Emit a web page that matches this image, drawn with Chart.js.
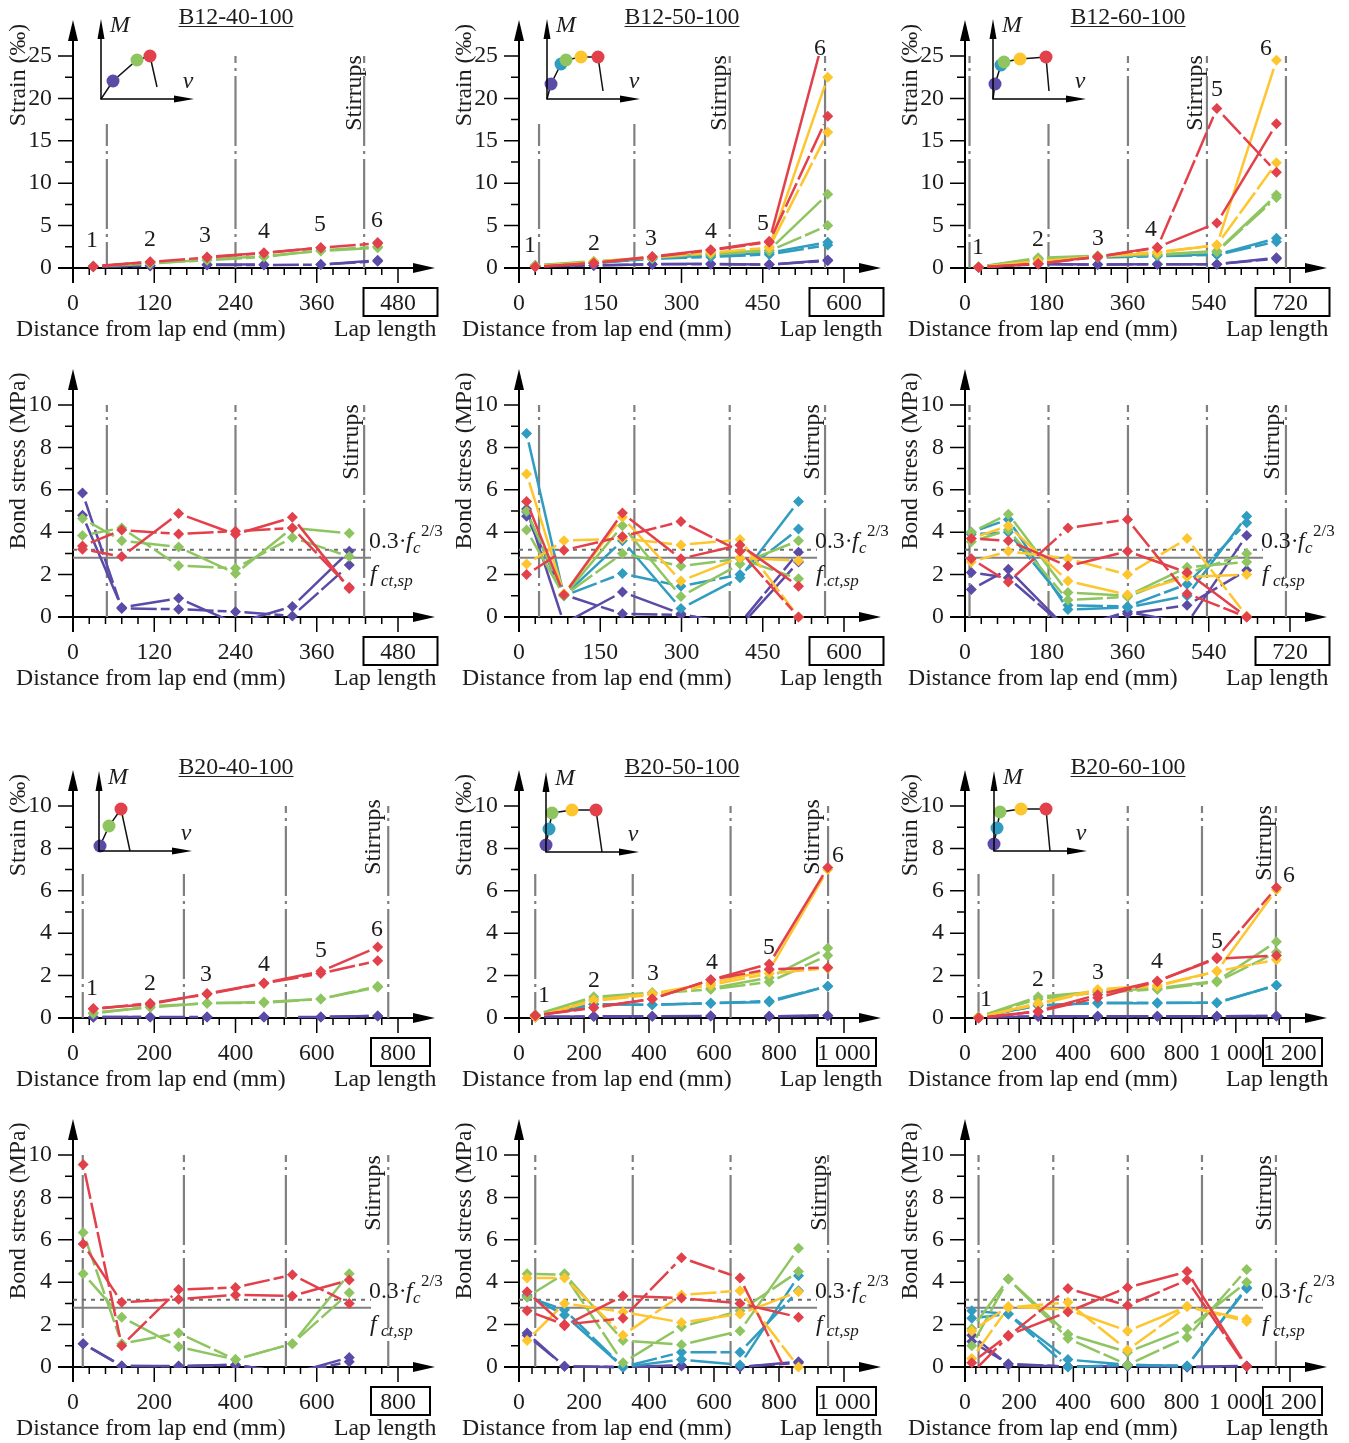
<!DOCTYPE html>
<html>
<head>
<meta charset="utf-8">
<title>Strain and bond stress along lap splices</title>
<script src="https://cdn.jsdelivr.net/npm/chart.js@4/dist/chart.umd.min.js"></script>
<style>
  html, body { margin: 0; padding: 0; background: #fff; }
  #page { position: relative; width: 1349px; height: 1443px; overflow: hidden; background: #fff; }
  canvas { position: absolute; }
</style>
</head>
<body>
<div id="page"></div>
<script>
// B12-40-100 strain
const b1240sX = [30, 114, 198, 282, 366, 450];
const b1240sRed = [0.2, 0.75, 1.3, 1.8, 2.4, 3.0];
const b1240sRedD = [0.15, 0.7, 1.25, 1.75, 2.4, 2.9];
const b1240sGreen = [0.2, 0.5, 1.0, 1.4, 2.0, 2.4];
const b1240sGreenD = [0.2, 0.6, 0.9, 1.3, 2.1, 2.5];
const b1240sPurple = [0.2, 0.3, 0.4, 0.4, 0.4, 0.9];
const b1240sPurpleD = [0.15, 0.25, 0.35, 0.35, 0.4, 0.8];
// B12-40-100 bond
const b1240bX = [14, 72, 156, 240, 324, 408];
const b1240bRed = [3.2, 2.85, 4.88, 3.9, 4.7, 1.35];
const b1240bRedD = [3.35, 4.1, 3.92, 4.05, 4.2, 1.4];
const b1240bGreen = [4.65, 3.6, 3.3, 2.05, 4.2, 3.95];
const b1240bGreenD = [3.85, 4.2, 2.42, 2.3, 3.75, 2.85];
const b1240bPurple = [4.8, 0.45, 0.88, -0.3, 0.5, 3.1];
const b1240bPurpleD = [5.85, 0.4, 0.37, 0.25, 0.05, 2.45];
// B12-50-100 strain
const b1250sX = [30, 138, 246, 354, 462, 570];
const b1250sRed = [0.15, 0.6, 1.35, 2.15, 3.15, 29];
const b1250sRedD = [0.15, 0.55, 1.3, 2.1, 3.05, 17.9];
const b1250sYellow = [0.2, 0.7, 1.3, 1.9, 2.5, 22.5];
const b1250sYellowD = [0.2, 0.65, 1.25, 1.8, 2.4, 16];
const b1250sGreen = [0.3, 0.8, 1.2, 1.7, 2.1, 8.7];
const b1250sGreenD = [0.25, 0.7, 1.15, 1.6, 2.0, 5.0];
const b1250sBlue = [0.3, 0.6, 1.1, 1.5, 1.8, 3.05];
const b1250sBlueD = [0.3, 0.55, 1.1, 1.3, 1.6, 2.7];
const b1250sPurple = [0.25, 0.3, 0.45, 0.5, 0.4, 0.95];
const b1250sPurpleD = [0.2, 0.3, 0.45, 0.45, 0.4, 0.85];
// B12-50-100 bond
const b1250bX = [14, 83, 191, 299, 408, 516];
const b1250bRed = [5.45, 1.05, 4.9, 2.75, 3.4, 1.45];
const b1250bRedD = [2.0, 3.15, 3.8, 4.5, 3.1, 0];
const b1250bYellow = [6.75, 1.1, 4.7, 1.7, 2.8, 2.65];
const b1250bYellowD = [2.5, 3.6, 3.7, 3.4, 3.65, 0];
const b1250bGreen = [4.1, 1.0, 4.3, 0.97, 2.5, 3.6];
const b1250bGreenD = [5.0, 1.0, 3.0, 2.4, 2.75, 1.8];
const b1250bBlue = [8.65, 1.0, 3.6, 0.4, 1.85, 5.45];
const b1250bBlueD = [4.95, 1.0, 2.05, 1.45, 2.0, 4.15];
const b1250bPurple = [5.1, -0.3, 1.18, 0.15, -0.45, 2.6];
const b1250bPurpleD = [4.75, 1.05, 0.15, 0.1, -0.3, 3.05];
// B12-60-100 strain
const b1260sX = [30, 162, 294, 426, 558, 690];
const b1260sRed = [0.1, 0.5, 1.35, 2.45, 5.3, 17];
const b1260sRedD = [0.1, 0.5, 1.3, 2.4, 18.8, 11.3];
const b1260sYellow = [0.1, 0.8, 1.3, 1.8, 2.7, 24.5];
const b1260sYellowD = [0.1, 0.75, 1.35, 1.9, 2.7, 12.4];
const b1260sGreen = [0.15, 1.2, 1.45, 1.6, 2.0, 8.6];
const b1260sGreenD = [0.1, 1.1, 1.4, 1.55, 1.9, 8.3];
const b1260sBlue = [0.1, 1.1, 1.3, 1.5, 1.6, 3.5];
const b1260sBlueD = [0.1, 1.0, 1.2, 1.4, 1.55, 3.1];
const b1260sPurple = [0.1, 0.5, 0.4, 0.45, 0.45, 1.2];
const b1260sPurpleD = [0.1, 0.45, 0.4, 0.45, 0.45, 1.1];
// B12-60-100 bond
const b1260bX = [14, 96, 228, 360, 492, 624];
const b1260bRed = [3.7, 3.6, 2.4, 3.1, 2.1, 0];
const b1260bRedD = [2.75, 1.65, 4.2, 4.6, 1.1, 0];
const b1260bYellow = [3.7, 4.3, 1.7, 1.05, 1.9, 2.0];
const b1260bYellowD = [2.6, 3.1, 2.75, 2.0, 3.7, 0.05];
const b1260bGreen = [4.0, 4.85, 1.15, 1.0, 2.35, 2.6];
const b1260bGreenD = [3.55, 4.1, 0.8, 0.95, 2.05, 3.0];
const b1260bBlue = [4.0, 4.6, 0.35, 0.45, 1.0, 4.75];
const b1260bBlueD = [3.9, 4.0, 0.55, 0.5, 1.55, 4.45];
const b1260bPurple = [1.3, 2.25, -0.6, 0.25, -0.3, 3.85];
const b1260bPurpleD = [2.1, 1.85, -0.6, 0.15, 0.55, 2.2];
// B20-40-100 strain
const b2040sX = [50, 190, 330, 470, 610, 750];
const b2040sRed = [0.45, 0.65, 1.15, 1.65, 2.2, 3.35];
const b2040sRedD = [0.42, 0.7, 1.12, 1.63, 2.1, 2.7];
const b2040sGreen = [0.25, 0.5, 0.7, 0.75, 0.9, 1.45];
const b2040sGreenD = [0.2, 0.55, 0.7, 0.72, 0.9, 1.5];
const b2040sPurple = [0.05, 0.05, 0.05, 0.05, 0.05, 0.1];
const b2040sPurpleD = [0.04, 0.05, 0.05, 0.05, 0.05, 0.1];
// B20-40-100 bond
const b2040bX = [25, 120, 260, 400, 540, 680];
const b2040bRed = [5.8, 3.05, 3.2, 3.4, 3.35, 4.1];
const b2040bRedD = [9.55, 1.0, 3.65, 3.75, 4.35, 3.0];
const b2040bGreen = [4.4, 2.35, 0.95, 0.35, 1.1, 4.4];
const b2040bGreenD = [6.35, 1.1, 1.6, 0.35, 1.1, 3.5];
const b2040bPurple = [1.1, 0.05, 0.05, 0.1, -0.3, 0.45];
const b2040bPurpleD = [1.1, 0.05, 0.03, 0.1, -0.3, 0.25];
// B20-50-100 strain
const b2050sX = [50, 230, 410, 590, 770, 950];
const b2050sRed = [0.12, 0.5, 0.9, 1.8, 2.55, 7.1];
const b2050sRedD = [0.12, 0.48, 0.9, 1.8, 2.3, 2.38];
const b2050sYellow = [0.05, 0.85, 1.15, 1.65, 2.25, 7.0];
const b2050sYellowD = [0.05, 0.8, 1.1, 1.55, 2.1, 2.35];
const b2050sGreen = [0.15, 1.0, 1.2, 1.4, 1.9, 3.3];
const b2050sGreenD = [0.15, 0.9, 1.15, 1.35, 1.7, 2.95];
const b2050sBlue = [0.1, 0.65, 0.62, 0.7, 0.75, 1.5];
const b2050sBlueD = [0.1, 0.65, 0.62, 0.7, 0.8, 1.5];
const b2050sPurple = [0.05, 0.08, 0.08, 0.1, 0.08, 0.12];
const b2050sPurpleD = [0.05, 0.07, 0.08, 0.09, 0.08, 0.11];
// B20-50-100 bond
const b2050bX = [25, 140, 320, 500, 680, 860];
const b2050bRed = [3.55, 1.95, 3.35, 3.25, 3.0, 2.35];
const b2050bRedD = [2.65, 2.0, 2.3, 5.15, 4.2, -1.4];
const b2050bYellow = [1.25, 3.0, 2.6, 2.1, 2.5, 3.55];
const b2050bYellowD = [4.2, 4.2, 1.5, 3.4, 3.6, 0];
const b2050bGreen = [3.3, 4.4, 1.25, 1.05, 1.7, 5.6];
const b2050bGreenD = [4.4, 4.35, 0.2, 1.9, 2.65, 4.5];
const b2050bBlue = [3.4, 2.45, 0, 0.35, 0.1, 4.3];
const b2050bBlueD = [3.3, 2.7, 0, 0.7, 0.7, 3.6];
const b2050bPurple = [1.6, 0.03, 0, 0.08, 0, 0.25];
const b2050bPurpleD = [1.5, 0.03, 0, 0.05, 0, 0.2];
// B20-60-100 strain
const b2060sX = [50, 270, 490, 710, 930, 1150];
const b2060sRed = [0, 0.32, 1.1, 1.75, 2.8, 2.95];
const b2060sRedD = [0, 0.3, 0.95, 1.72, 2.85, 6.15];
const b2060sYellow = [0.03, 0.7, 1.35, 1.55, 2.2, 6.05];
const b2060sYellowD = [0.03, 0.65, 1.3, 1.5, 2.2, 2.75];
const b2060sGreen = [0.05, 1.0, 1.25, 1.4, 1.75, 3.6];
const b2060sGreenD = [0.05, 0.9, 1.2, 1.35, 1.7, 3.1];
const b2060sBlue = [0.05, 0.6, 0.7, 0.7, 0.72, 1.55];
const b2060sBlueD = [0.05, 0.58, 0.72, 0.72, 0.72, 1.55];
const b2060sPurple = [0.03, 0.08, 0.08, 0.08, 0.08, 0.1];
const b2060sPurpleD = [0.03, 0.07, 0.08, 0.08, 0.08, 0.1];
// B20-60-100 bond
const b2060bX = [25, 160, 380, 600, 820, 1040];
const b2060bRed = [0.2, 1.5, 2.6, 3.75, 4.5, 0.03];
const b2060bRedD = [-0.3, 1.45, 3.7, 2.9, 4.1, 0];
const b2060bYellow = [1.7, 2.85, 2.7, 1.7, 2.85, 2.25];
const b2060bYellowD = [0.4, 2.8, 3.05, 0.8, 2.85, 2.15];
const b2060bGreen = [1.8, 4.15, 1.55, 0.7, 1.8, 4.0];
const b2060bGreenD = [1.0, 4.15, 1.35, 0.1, 1.4, 4.6];
const b2060bBlue = [2.65, 2.5, 0.35, 0.1, 0.05, 3.75];
const b2060bBlueD = [2.3, 2.5, 0, 0.1, 0.05, 3.7];
const b2060bPurple = [1.5, 0.1, 0.02, 0.05, 0, 0.05];
const b2060bPurpleD = [1.2, 0.15, 0.02, 0.05, 0, 0.03];

// stirrup positions along the lap (mm)
const stirrups1240 = [50, 240, 430];
const stirrups1250 = [37, 213, 389, 565];
const stirrups1260 = [10, 185, 361, 536, 711];
const stirrups2040 = [24, 273, 524, 776];
const stirrups2050 = [50, 350, 651, 951];
const stirrups2060 = [50, 326, 601, 875, 1148];

// reference levels in the bond plots (MPa)
const splitLevel = 3.17;   // 0.3 fc^(2/3)
const tensileLevel = 2.79; // fct,sp

// load-slip sketches: slip v and moment M, first point is the origin and last the end of the curve
const sketch1240V = [0, 12, 36, 49, 56];
const sketch1240M = [0, 18, 39, 43, 12];
const sketch1250V = [0, 4, 14, 19, 34, 51, 56];
const sketch1250M = [0, 15, 35, 39, 42, 42, 8];
const sketch1260V = [0, 2, 8, 11, 27, 53, 56];
const sketch1260M = [0, 15, 34, 37, 40, 42, 8];
const sketch2040V = [0, 1, 10, 22, 31];
const sketch2040M = [0, 5, 25, 42, 0];
const sketch2050V = [0, 0, 3, 6, 26, 50, 56];
const sketch2050M = [0, 7, 23, 39, 42, 42, 0];
const sketch2060V = [0, 0, 3, 6, 27, 52, 56];
const sketch2060M = [0, 7, 23, 39, 42, 42, 0];

const RED = '#e2404a', YELLOW = '#fdc52e', GREEN = '#8fc561', BLUE = '#2f9cc0', PURPLE = '#5b4aa6';
const INK = '#1c1c1c', GREY = '#808080';
const FONT = '"Liberation Serif", "Times New Roman", serif';
const FONT_SIZE = 23.8;
const MARKER_GAP = 9;   // lines stop short of the markers
const DASH = 26, DASH_GAP = 4;

const PLOT_LEFT = 72;
const colX = [73 - PLOT_LEFT, 519 - PLOT_LEFT, 965 - PLOT_LEFT]; // canvas left edges
const rowTop = [0, 355, 755, 1105];
const rowZero = [268, 617, 1018, 1367];
const CANVAS_W = 447, CANVAS_H = 345, PLOT_W = 325, PLOT_H = 212;

const fiveDots = [PURPLE, BLUE, GREEN, YELLOW, RED];
const threeDots = [PURPLE, GREEN, RED];

const panels = [
  { col: 0, row: 0, title: 'B12-40-100', lap: 480, major: 120, xs: b1240sX, stirrups: stirrups1240,
    lines: [[RED, b1240sRed, b1240sRedD], [GREEN, b1240sGreen, b1240sGreenD], [PURPLE, b1240sPurple, b1240sPurpleD]],
    numbers: [[92, 239], [150, 238], [205, 234], [264, 230], [320, 223], [377, 219]], stirLabel: [353, 93],
    sketch: { x: 100.7, y: 99, v: sketch1240V, m: sketch1240M, dots: threeDots } },
  { col: 1, row: 0, title: 'B12-50-100', lap: 600, major: 150, xs: b1250sX, stirrups: stirrups1250,
    lines: [[RED, b1250sRed, b1250sRedD], [YELLOW, b1250sYellow, b1250sYellowD], [GREEN, b1250sGreen, b1250sGreenD], [BLUE, b1250sBlue, b1250sBlueD], [PURPLE, b1250sPurple, b1250sPurpleD]],
    numbers: [[530, 244], [594, 242], [651, 237], [711, 230], [763, 222], [820, 47]], stirLabel: [718, 93],
    sketch: { x: 547.3, y: 99, v: sketch1250V, m: sketch1250M, dots: fiveDots } },
  { col: 2, row: 0, title: 'B12-60-100', lap: 720, major: 180, xs: b1260sX, stirrups: stirrups1260,
    lines: [[RED, b1260sRed, b1260sRedD], [YELLOW, b1260sYellow, b1260sYellowD], [GREEN, b1260sGreen, b1260sGreenD], [BLUE, b1260sBlue, b1260sBlueD], [PURPLE, b1260sPurple, b1260sPurpleD]],
    numbers: [[978, 246], [1038, 238], [1098, 237], [1151, 228], [1217, 88], [1266, 47]], stirLabel: [1194, 93],
    sketch: { x: 992.7, y: 99, v: sketch1260V, m: sketch1260M, dots: fiveDots } },
  { col: 0, row: 1, lap: 480, major: 120, xs: b1240bX, stirrups: stirrups1240,
    lines: [[RED, b1240bRed, b1240bRedD], [GREEN, b1240bGreen, b1240bGreenD], [PURPLE, b1240bPurple, b1240bPurpleD]], stirLabel: [350, 442] },
  { col: 1, row: 1, lap: 600, major: 150, xs: b1250bX, stirrups: stirrups1250,
    lines: [[RED, b1250bRed, b1250bRedD], [YELLOW, b1250bYellow, b1250bYellowD], [GREEN, b1250bGreen, b1250bGreenD], [BLUE, b1250bBlue, b1250bBlueD], [PURPLE, b1250bPurple, b1250bPurpleD]], stirLabel: [811, 442] },
  { col: 2, row: 1, lap: 720, major: 180, xs: b1260bX, stirrups: stirrups1260,
    lines: [[RED, b1260bRed, b1260bRedD], [YELLOW, b1260bYellow, b1260bYellowD], [GREEN, b1260bGreen, b1260bGreenD], [BLUE, b1260bBlue, b1260bBlueD], [PURPLE, b1260bPurple, b1260bPurpleD]], stirLabel: [1271, 442] },
  { col: 0, row: 2, title: 'B20-40-100', lap: 800, major: 200, xs: b2040sX, stirrups: stirrups2040,
    lines: [[RED, b2040sRed, b2040sRedD], [GREEN, b2040sGreen, b2040sGreenD], [PURPLE, b2040sPurple, b2040sPurpleD]],
    numbers: [[92, 987], [150, 982], [206, 973], [264, 963], [321, 949], [377, 928]], stirLabel: [372, 837],
    sketch: { x: 99.3, y: 851, v: sketch2040V, m: sketch2040M, dots: threeDots } },
  { col: 1, row: 2, title: 'B20-50-100', lap: 1000, major: 200, xs: b2050sX, stirrups: stirrups2050,
    lines: [[RED, b2050sRed, b2050sRedD], [YELLOW, b2050sYellow, b2050sYellowD], [GREEN, b2050sGreen, b2050sGreenD], [BLUE, b2050sBlue, b2050sBlueD], [PURPLE, b2050sPurple, b2050sPurpleD]],
    numbers: [[544, 994], [594, 979], [653, 972], [712, 961], [769, 946], [838, 854]], stirLabel: [811, 837],
    sketch: { x: 545.7, y: 852, v: sketch2050V, m: sketch2050M, dots: fiveDots } },
  { col: 2, row: 2, title: 'B20-60-100', lap: 1200, major: 200, xs: b2060sX, stirrups: stirrups2060,
    lines: [[RED, b2060sRed, b2060sRedD], [YELLOW, b2060sYellow, b2060sYellowD], [GREEN, b2060sGreen, b2060sGreenD], [BLUE, b2060sBlue, b2060sBlueD], [PURPLE, b2060sPurple, b2060sPurpleD]],
    numbers: [[986, 998], [1038, 978], [1098, 971], [1157, 960], [1217, 940], [1289, 874]], stirLabel: [1263, 843],
    sketch: { x: 994.3, y: 851.3, v: sketch2060V, m: sketch2060M, dots: fiveDots } },
  { col: 0, row: 3, lap: 800, major: 200, xs: b2040bX, stirrups: stirrups2040,
    lines: [[RED, b2040bRed, b2040bRedD], [GREEN, b2040bGreen, b2040bGreenD], [PURPLE, b2040bPurple, b2040bPurpleD]], stirLabel: [372, 1193] },
  { col: 1, row: 3, lap: 1000, major: 200, xs: b2050bX, stirrups: stirrups2050,
    lines: [[RED, b2050bRed, b2050bRedD], [YELLOW, b2050bYellow, b2050bYellowD], [GREEN, b2050bGreen, b2050bGreenD], [BLUE, b2050bBlue, b2050bBlueD], [PURPLE, b2050bPurple, b2050bPurpleD]], stirLabel: [818, 1193] },
  { col: 2, row: 3, lap: 1200, major: 200, xs: b2060bX, stirrups: stirrups2060,
    lines: [[RED, b2060bRed, b2060bRedD], [YELLOW, b2060bYellow, b2060bYellowD], [GREEN, b2060bGreen, b2060bGreenD], [BLUE, b2060bBlue, b2060bBlueD], [PURPLE, b2060bPurple, b2060bPurpleD]], stirLabel: [1263, 1193] }
];

// Dash pattern that leaves a gap round both markers of a segment
function gappedDash(ctx, dashed) {
  const len = Math.hypot(ctx.p1.x - ctx.p0.x, ctx.p1.y - ctx.p0.y);
  const inner = len - 2 * MARKER_GAP;
  if (inner <= 0) return [0, len + 100];
  if (!dashed) return [inner, len + 100];
  const out = [];
  let left = inner;
  while (left > DASH) {
    out.push(DASH, DASH_GAP);
    left -= DASH + DASH_GAP;
  }
  if (left > 0) out.push(left, len + 100);
  else out.push(0, len + 100);
  return out;
}

function label(ctx, str, x, y, font, align, rot) {
  ctx.save();
  ctx.font = font;
  ctx.fillStyle = INK;
  ctx.textAlign = align || 'center';
  ctx.textBaseline = 'middle';
  ctx.translate(x, y);
  if (rot) ctx.rotate(rot);
  ctx.fillText(str, 0, 1.5);
  ctx.restore();
}

function arrowHead(ctx, tipX, tipY, dx, dy, len, half) {
  ctx.beginPath();
  ctx.moveTo(tipX, tipY);
  ctx.lineTo(tipX - dx * len + dy * half, tipY - dy * len + dx * half);
  ctx.lineTo(tipX - dx * len - dy * half, tipY - dy * len - dx * half);
  ctx.closePath();
  ctx.fill();
}

const panelDecor = {
  id: 'panelDecor',
  beforeDatasetsDraw(chart, args, opts) {
    const ctx = chart.ctx, x = chart.scales.x, y = chart.scales.y, a = chart.chartArea;
    ctx.save();
    ctx.strokeStyle = '#000';
    ctx.fillStyle = '#000';
    ctx.lineWidth = 2;
    ctx.beginPath();
    ctx.moveTo(a.left, a.bottom + 15);
    ctx.lineTo(a.left, a.bottom - 228);
    ctx.moveTo(a.left - 15, a.bottom);
    ctx.lineTo(a.left + 345, a.bottom);
    ctx.stroke();
    arrowHead(ctx, a.left, a.bottom - 248, 0, -1, 21, 5);
    arrowHead(ctx, a.left + 362, a.bottom, 1, 0, 22, 5);
    ctx.lineWidth = 1.5;
    ctx.beginPath();
    x.ticks.forEach(t => {
      const px = x.getPixelForValue(t.value);
      const len = t.value % opts.major === 0 ? 15 : 7;
      ctx.moveTo(px, a.bottom);
      ctx.lineTo(px, a.bottom + len);
    });
    y.ticks.forEach(t => {
      const py = y.getPixelForValue(t.value);
      const len = t.value % opts.yMajor === 0 ? 15 : 8;
      ctx.moveTo(a.left, py);
      ctx.lineTo(a.left - len, py);
    });
    ctx.stroke();
    ctx.restore();
  },
  afterDatasetsDraw(chart, args, opts) {
    const ctx = chart.ctx, x = chart.scales.x, a = chart.chartArea;
    const p = opts.panel;
    const cx = colX[p.col], cy = rowTop[p.row];
    const f = FONT_SIZE + 'px ' + FONT;
    ctx.save();
    ctx.translate(-cx, -cy); // labels below use page coordinates
    const x0 = a.left + cx, y0 = a.bottom + cy;

    // sketch sits on a white patch that hides the stirrup tops
    if (p.sketch) {
      ctx.fillStyle = '#fff';
      ctx.fillRect(p.sketch.x - 20, y0 - 255, 115, 111);
    }

    if (p.title) {
      const tx = x0 + 163;
      const ty = y0 - 252;
      label(ctx, p.title, tx, ty, f);
      ctx.strokeStyle = '#222';
      ctx.lineWidth = 1;
      ctx.beginPath();
      ctx.moveTo(tx - 57.5, ty + 10.5);
      ctx.lineTo(tx + 57.5, ty + 10.5);
      ctx.stroke();
    }

    // axis captions
    const isStrain = p.row % 2 === 0;
    label(ctx, isStrain ? 'Strain (‰)' : 'Bond stress (MPa)', x0 - 56, y0 - (isStrain ? 193 : 156), f, 'center', -Math.PI / 2);
    label(ctx, 'Distance from lap end (mm)', x0 - 57, y0 + 60, f, 'left');
    label(ctx, 'Lap length', x0 + 261, y0 + 60, f, 'left');
    label(ctx, 'Stirrups', p.stirLabel[0], p.stirLabel[1], f, 'center', -Math.PI / 2);

    // box round the lap length tick
    const boxW = p.lap <= 720 ? 74 : 59;
    const bx = x.getPixelForValue(p.lap) + cx + 2.5;
    ctx.strokeStyle = '#000';
    ctx.lineWidth = 2;
    ctx.strokeRect(bx - boxW / 2, y0 + 20, boxW, 28);

    if (p.numbers) {
      p.numbers.forEach((n, i) => label(ctx, String(i + 1), n[0], n[1], f));
    }

    if (!isStrain) {
      const lx = x0 + 296;
      const i24 = 'italic ' + FONT_SIZE + 'px ' + FONT, i17 = 'italic 17px ' + FONT, r17 = '17px ' + FONT;
      label(ctx, '0.3·', lx, y0 - 77, f, 'left');
      label(ctx, 'f', lx + 37, y0 - 77, i24, 'left');
      label(ctx, 'c', lx + 44, y0 - 70, i17, 'left');
      label(ctx, '2/3', lx + 52, y0 - 87, r17, 'left');
      label(ctx, 'f', lx + 1, y0 - 44, i24, 'left');
      label(ctx, 'ct,sp', lx + 12, y0 - 37, i17, 'left');
    }
    ctx.restore();
  }
};

const sketchDecor = {
  id: 'sketchDecor',
  afterDraw(chart) {
    const ctx = chart.ctx, x = chart.scales.x, y = chart.scales.y;
    const ox = x.getPixelForValue(0), oy = y.getPixelForValue(0);
    const f = 'italic ' + FONT_SIZE + 'px ' + FONT;
    ctx.save();
    ctx.strokeStyle = '#000';
    ctx.fillStyle = '#000';
    ctx.lineWidth = 1.5;
    ctx.beginPath();
    ctx.moveTo(ox, y.getPixelForValue(70));
    ctx.lineTo(ox, oy);
    ctx.lineTo(x.getPixelForValue(80), oy);
    ctx.stroke();
    arrowHead(ctx, ox, y.getPixelForValue(80), 0, -1, 20, 3.5);
    arrowHead(ctx, x.getPixelForValue(93), oy, 1, 0, 20, 3.5);
    label(ctx, 'M', x.getPixelForValue(19), y.getPixelForValue(75), f);
    label(ctx, 'v', x.getPixelForValue(87), y.getPixelForValue(19), f);
    ctx.restore();
  }
};

const page = document.getElementById('page');

function addCanvas(left, top, w, h) {
  const c = document.createElement('canvas');
  c.width = w;
  c.height = h;
  c.style.left = left + 'px';
  c.style.top = top + 'px';
  c.style.width = w + 'px';
  c.style.height = h + 'px';
  page.appendChild(c);
  return c;
}

function seriesDataset(color, xs, ys, dashed, yMax) {
  return {
    data: xs.map((x, i) => ({ x: x, y: ys[i] })),
    borderColor: color,
    backgroundColor: color,
    borderWidth: 2.5,
    pointStyle: 'rectRot',
    pointRadius: 5.5,
    pointBorderWidth: 0,
    pointHoverRadius: 5.5,
    tension: 0,
    clip: { left: false, right: false, top: Math.max(...ys) > yMax ? 0 : 6, bottom: Math.min(...ys) < 0 ? 1 : 6 },
    segment: {
      borderDash: ctx => gappedDash(ctx, dashed),
      borderDashOffset: () => -MARKER_GAP
    }
  };
}

function stirrupDataset(list, top) {
  const pts = [];
  list.forEach(s => {
    pts.push({ x: s, y: top }, { x: s, y: 0 }, { x: s, y: null });
  });
  return {
    data: pts, borderColor: GREY, borderWidth: 2.2, pointRadius: 0,
    borderDash: [70, 5, 3, 5], borderDashOffset: 63, clip: false
  };
}

function levelDataset(level, lap, dash, color) {
  return {
    data: [{ x: 0, y: level }, { x: lap * 0.917, y: level }],
    borderColor: color, borderWidth: 2, pointRadius: 0, borderDash: dash, clip: false
  };
}

panels.forEach(p => {
  const isStrain = p.row % 2 === 0;
  const yMax = p.row === 0 ? 25 : 10;
  const yMajor = p.row === 0 ? 5 : 2;
  const yStep = p.row === 0 ? 2.5 : 1;
  const left = colX[p.col], top = rowTop[p.row];
  const plotBottom = rowZero[p.row] - top;

  const datasets = [];
  p.lines.forEach(l => {
    datasets.push(seriesDataset(l[0], p.xs, l[1], false, yMax));
    datasets.push(seriesDataset(l[0], p.xs, l[2], true, yMax));
  });
  if (!isStrain) {
    datasets.push(levelDataset(tensileLevel, p.lap, [], GREY));
    datasets.push(levelDataset(splitLevel, p.lap, [4, 5], '#6e6e6e'));
  }
  datasets.push(stirrupDataset(p.stirrups, yMax));

  new Chart(addCanvas(left, top, CANVAS_W, CANVAS_H), {
    type: 'line',
    data: { datasets: datasets },
    plugins: [panelDecor],
    options: {
      responsive: false,
      animation: false,
      events: [],
      layout: { padding: { left: 0, top: plotBottom - PLOT_H, right: CANVAS_W - PLOT_LEFT - PLOT_W, bottom: 0 } },
      plugins: {
        legend: { display: false },
        tooltip: { enabled: false },
        panelDecor: { panel: p, major: p.major, yMajor: yMajor }
      },
      scales: {
        x: {
          type: 'linear', min: 0, max: p.lap,
          grid: { display: false, drawTicks: false },
          border: { display: false },
          afterFit(s) { s.height = CANVAS_H - plotBottom; },
          ticks: {
            stepSize: p.major / 5, autoSkip: false, maxRotation: 0, minRotation: 0, padding: 21,
            color: INK, font: { family: FONT, size: FONT_SIZE },
            callback: v => v % p.major === 0 ? (v >= 1000 ? '1 ' + String(v).slice(1) : String(v)) : ''
          }
        },
        y: {
          type: 'linear', min: 0, max: yMax,
          grid: { display: false, drawTicks: false },
          border: { display: false },
          afterFit(s) { s.width = PLOT_LEFT; },
          ticks: {
            stepSize: yStep, autoSkip: false, padding: 21,
            color: INK, font: { family: FONT, size: FONT_SIZE },
            callback: v => v % yMajor === 0 ? String(v) : ''
          }
        }
      }
    }
  });

  if (p.sketch) {
    const s = p.sketch;
    const W = 120, H = 105; // one unit is one pixel
    const last = s.v.length - 1;
    new Chart(addCanvas(s.x - 20, s.y - 90, W, H), {
      type: 'line',
      data: {
        datasets: [{
          data: s.v.map((v, i) => ({ x: v, y: s.m[i] })),
          borderColor: '#111',
          borderWidth: 1.5,
          tension: 0,
          clip: false,
          pointRadius: s.v.map((v, i) => (i === 0 || i === last) ? 0 : 6.5),
          pointBorderWidth: 0,
          pointBackgroundColor: s.v.map((v, i) => (i === 0 || i === last) ? '#111' : s.dots[i - 1])
        }]
      },
      plugins: [sketchDecor],
      options: {
        responsive: false,
        animation: false,
        events: [],
        layout: { padding: 0 },
        plugins: { legend: { display: false }, tooltip: { enabled: false } },
        scales: {
          x: { type: 'linear', min: -20, max: 100, display: false },
          y: { type: 'linear', min: -15, max: 90, display: false }
        }
      }
    });
  }
});
</script>
</body>
</html>
